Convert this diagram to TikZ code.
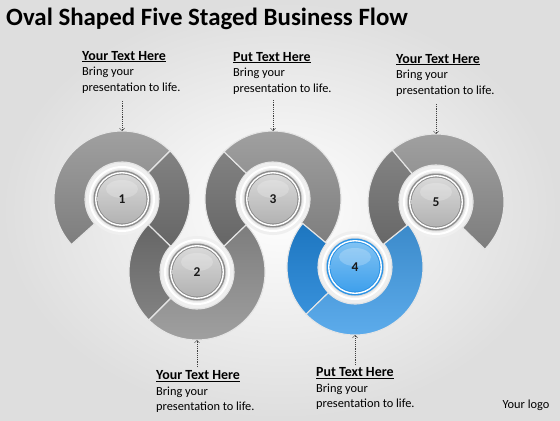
\documentclass[tikz,border=0pt]{standalone}
\usepackage{fontspec}
\setmainfont{Carlito}
\usetikzlibrary{calc,arrows.meta}
\definecolor{gl0}{HTML}{B4B4B4}
\definecolor{gl1}{HTML}{A4A4A4}
\definecolor{gl2}{HTML}{8E8E8E}
\definecolor{gd0}{HTML}{929292}
\definecolor{gd1}{HTML}{868686}
\definecolor{gd2}{HTML}{727272}
\definecolor{bl0}{HTML}{80C2F3}
\definecolor{bl1}{HTML}{62B2EF}
\definecolor{bl2}{HTML}{3E9CE8}
\definecolor{bd0}{HTML}{3FA0EC}
\definecolor{bd1}{HTML}{2A93E6}
\definecolor{bd2}{HTML}{1A84DC}
\definecolor{halo}{HTML}{EFEFEF}
\definecolor{arrowgray}{HTML}{404040}
\pgfdeclareradialshading{tubeGL}{\pgfpoint{0bp}{0bp}}{color(0bp)=(gl2);color(27.2bp)=(gl2);color(31bp)=(gl1);color(38.6bp)=(gl0);color(46bp)=(gl1);color(50bp)=(gl2)}
\pgfdeclareradialshading{tubeGD}{\pgfpoint{0bp}{0bp}}{color(0bp)=(gd2);color(27.2bp)=(gd2);color(31bp)=(gd1);color(38.6bp)=(gd0);color(46bp)=(gd1);color(50bp)=(gd2)}
\pgfdeclareradialshading{tubeBL}{\pgfpoint{0bp}{0bp}}{color(0bp)=(bl2);color(27.2bp)=(bl2);color(31bp)=(bl1);color(38.6bp)=(bl0);color(46bp)=(bl1);color(50bp)=(bl2)}
\pgfdeclareradialshading{tubeBD}{\pgfpoint{0bp}{0bp}}{color(0bp)=(bd2);color(27.2bp)=(bd2);color(31bp)=(bd1);color(38.6bp)=(bd0);color(46bp)=(bd1);color(50bp)=(bd2)}
% ring segment: center, start angle, end angle, shading, overlay colours
\newcommand{\ringseg}[5]{%
  \path[draw=white!90!black, line width=1.1pt, path picture={
      \shade[shading=#4] (#1) circle (68);
      \shade[#5, opacity=0.16] ($(#1)+(-68,-68)$) rectangle ($(#1)+(68,68)$);
    }]
    ($(#1)+(#2:68)$) arc[start angle=#2, end angle=#3, radius=68]
    -- ($(#1)+(#3:37)$) arc[start angle=#3, end angle=#2, radius=37] -- cycle;}
% centre button: center, dark ring colour, disc top, disc bottom
\newcommand{\ringbutton}[4]{%
  \fill[halo] (#1) circle (36);
  \draw[white, line width=2pt] (#1) circle (32);
  \fill[black!20, opacity=0.5] (#1) circle (29.5);
  \fill[#2] (#1) circle (28.5);
  \draw[white, line width=1.4pt] (#1) circle (26.3);
  \shade[top color=#3, bottom color=#4] (#1) circle (24.5);
  \fill[white, opacity=0.22] ($(#1)+(0,10)$) ellipse (16 and 9);}
\tikzset{
  heading/.style={anchor=base west, inner sep=0pt, font=\fontsize{14}{16}\selectfont\bfseries},
  bodytext/.style={anchor=base west, inner sep=0pt, font=\fontsize{12.4}{14}\selectfont},
  numtext/.style={inner sep=0pt, font=\fontsize{13.5}{15}\selectfont\bfseries, text=black!90},
  pointer/.style={arrowgray, line width=0.5pt, dash pattern=on 1.2pt off 1pt, -{Straight Barb[length=2.5pt,width=5pt]}},
  topring/.style={top color=white, bottom color=black},
  botring/.style={top color=black, bottom color=white}
}
\begin{document}
\begin{tikzpicture}[x=1bp, y=1bp]
\useasboundingbox (0,0) rectangle (560,420);
\shade[inner color=white, outer color=black!13] (0,0) rectangle (560,420);
% ring centres
\coordinate (c1) at (122,221);
\coordinate (c2) at (197,148);
\coordinate (c3) at (273,221);
\coordinate (c4) at (355,153);
\coordinate (c5) at (436,218);
% rings
\ringseg{c1}{45}{222}{tubeGL}{topring}
\ringseg{c1}{-44.2}{45}{tubeGD}{topring}
\ringseg{c2}{135.8}{225}{tubeGD}{botring}
\ringseg{c2}{225}{403.8}{tubeGL}{botring}
\ringseg{c3}{136}{223.8}{tubeGD}{topring}
\ringseg{c3}{-39.7}{136}{tubeGL}{topring}
\ringseg{c4}{140.3}{224}{tubeBD}{botring}
\ringseg{c4}{224}{398.7}{tubeBL}{botring}
\ringseg{c5}{130}{218.7}{tubeGD}{topring}
\ringseg{c5}{-44}{130}{tubeGL}{topring}
% buttons
\ringbutton{c1}{black!45}{black!15}{black!30}
\ringbutton{c2}{black!45}{black!15}{black!30}
\ringbutton{c3}{black!45}{black!15}{black!30}
\ringbutton{c4}{bd1}{bl0}{bd0}
\ringbutton{c5}{black!45}{black!15}{black!30}
\node[numtext] (n1) at (c1) {1};
\node[numtext] (n2) at (c2) {2};
\node[numtext] (n3) at (c3) {3};
\node[numtext] (n4) at (c4) {4};
\node[numtext] (n5) at (c5) {5};
% title
\node[anchor=base west, inner sep=0pt, font=\fontsize{25}{29}\selectfont\bfseries] (title) at (6,394) {Oval Shaped Five Staged Business Flow};
% text blocks
\node[heading] (h1) at (82,360) {\underline{Your Text Here}};
\node[bodytext] (b1a) at (82,344.5) {Bring your};
\node[bodytext] (b1b) at (82,329) {presentation to life.};
\node[heading] (h2) at (233,359) {\underline{Put Text Here}};
\node[bodytext] (b2a) at (233,343.5) {Bring your};
\node[bodytext] (b2b) at (233,328) {presentation to life.};
\node[heading] (h3) at (396,357) {\underline{Your Text Here}};
\node[bodytext] (b3a) at (396,341.5) {Bring your};
\node[bodytext] (b3b) at (396,326) {presentation to life.};
\node[heading] (h4) at (156,40.5) {\underline{Your Text Here}};
\node[bodytext] (b4a) at (156,25) {Bring your};
\node[bodytext] (b4b) at (156,9.5) {presentation to life.};
\node[heading] (h5) at (316,43.5) {\underline{Put Text Here}};
\node[bodytext] (b5a) at (316,28) {Bring your};
\node[bodytext] (b5b) at (316,12.5) {presentation to life.};
\node[bodytext, anchor=base] (logo) at (526,12) {Your logo};
% pointers
\coordinate (s1) at (122,319); \coordinate (t1) at ($(c1)+(0,68)$);
\coordinate (s2) at (273,320); \coordinate (t2) at ($(c3)+(0,68)$);
\coordinate (s3) at (436,316); \coordinate (t3) at ($(c5)+(0,68)$);
\coordinate (s4) at (197,53);  \coordinate (t4) at ($(c2)+(0,-68)$);
\coordinate (s5) at (355,55);  \coordinate (t5) at ($(c4)+(0,-68)$);
\draw[pointer] (s1) -- (t1);
\draw[pointer] (s2) -- (t2);
\draw[pointer] (s3) -- (t3);
\draw[pointer] (s4) -- (t4);
\draw[pointer] (s5) -- (t5);
\end{tikzpicture}
\end{document}
